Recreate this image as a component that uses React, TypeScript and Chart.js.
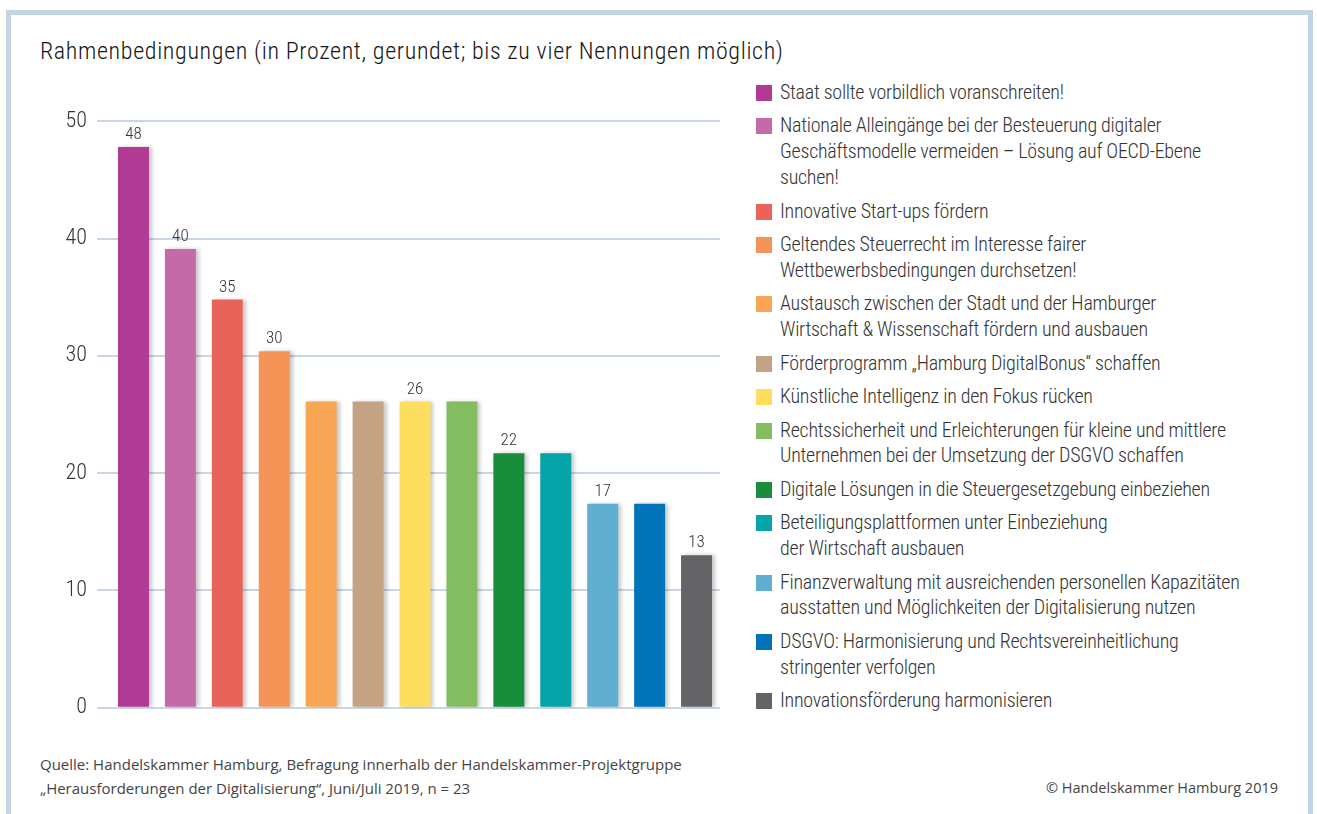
import React, { useEffect, useRef } from "react";
import { Chart, registerables } from "chart.js";

Chart.register(...registerables);

const TITLE = "Rahmenbedingungen (in Prozent, gerundet; bis zu vier Nennungen möglich)";
const SOURCE_LINES = [
  "Quelle: Handelskammer Hamburg, Befragung innerhalb der Handelskammer-Projektgruppe",
  "„Herausforderungen der Digitalisierung“, Juni/Juli 2019, n = 23",
];
const COPYRIGHT = "© Handelskammer Hamburg 2019";

const categories = [
  "Staat sollte vorbildlich voranschreiten!",
  "Nationale Alleingänge bei der Besteuerung digitaler\nGeschäftsmodelle vermeiden – Lösung auf OECD-Ebene\nsuchen!",
  "Innovative Start-ups fördern",
  "Geltendes Steuerrecht im Interesse fairer\nWettbewerbsbedingungen durchsetzen!",
  "Austausch zwischen der Stadt und der Hamburger\nWirtschaft & Wissenschaft fördern und ausbauen",
  "Förderprogramm „Hamburg DigitalBonus“ schaffen",
  "Künstliche Intelligenz in den Fokus rücken",
  "Rechtssicherheit und Erleichterungen für kleine und mittlere\nUnternehmen bei der Umsetzung der DSGVO schaffen",
  "Digitale Lösungen in die Steuergesetzgebung einbeziehen",
  "Beteiligungsplattformen unter Einbeziehung\nder Wirtschaft ausbauen",
  "Finanzverwaltung mit ausreichenden personellen Kapazitäten\nausstatten und Möglichkeiten der Digitalisierung nutzen",
  "DSGVO: Harmonisierung und Rechtsvereinheitlichung\nstringenter verfolgen",
  "Innovationsförderung harmonisieren",
];

const values = [47.8, 39.1, 34.8, 30.4, 26.1, 26.1, 26.1, 26.1, 21.7, 21.7, 17.4, 17.4, 13.0];

const valueLabels = ["48", "40", "35", "30", "", "", "26", "", "22", "", "17", "", "13"];

const colors = [
  "#b13a94",
  "#c56aa8",
  "#e8635a",
  "#f69457",
  "#f7a655",
  "#c4a385",
  "#fede5e",
  "#84bc62",
  "#188d3c",
  "#04a4a8",
  "#60aed0",
  "#0073b9",
  "#646466",
];

const yTicks = [0, 10, 20, 30, 40, 50];

const FONT = "'Roboto Condensed', 'Roboto', sans-serif";
const GRID = "#c8d6e6";

const barPlugin = {
  id: "barExtras",
  beforeDatasetsDraw(chart: any) {
    const ctx = chart.ctx;
    ctx.save();
    ctx.shadowColor = "rgba(0,0,0,0.22)";
    ctx.shadowOffsetX = 3;
    ctx.shadowOffsetY = 0;
    ctx.shadowBlur = 4;
  },
  afterDatasetsDraw(chart: any) {
    const ctx = chart.ctx;
    ctx.restore();
    const meta = chart.getDatasetMeta(0);
    ctx.save();
    ctx.font = `300 17px ${FONT}`;
    ctx.fillStyle = "#333333";
    ctx.textAlign = "center";
    ctx.textBaseline = "alphabetic";
    meta.data.forEach((bar: any, i: number) => {
      const t = valueLabels[i];
      if (!t) return;
      ctx.fillText(t, bar.x, bar.y - 8);
    });
    ctx.restore();
  },
};

export default function App() {
  const ref = useRef<HTMLCanvasElement>(null);
  useEffect(() => {
    if (!ref.current) return;
    const chart = new Chart(ref.current, {
      type: "bar",
      data: {
        labels: categories,
        datasets: [
          {
            data: values,
            backgroundColor: colors,
            borderWidth: 0,
            barPercentage: 0.66,
            categoryPercentage: 1,
          },
        ],
      },
      options: {
        animation: false,
        responsive: false,
        maintainAspectRatio: false,
        layout: { padding: { left: 0, right: 12, top: 21, bottom: 20 } },
        plugins: { legend: { display: false }, tooltip: { enabled: false } },
        scales: {
          x: { display: false },
          y: {
            min: 0,
            max: 50,
            afterFit(scale: any) {
              scale.width = 110;
            },
            afterBuildTicks(scale: any) {
              scale.ticks = yTicks.map((v) => ({ value: v }));
            },
            border: { display: false },
            grid: { color: GRID, lineWidth: 2, tickLength: 13, drawTicks: true, tickColor: GRID },
            ticks: {
              padding: 10,
              color: "#333333",
              font: { family: FONT, size: 22, weight: "300" as any },
            },
          },
        },
      },
      plugins: [barPlugin],
    });
    return () => chart.destroy();
  }, []);

  return (
    <div style={{ position: "fixed", left: 0, top: 0, width: 1317, height: 814, background: "#fff", overflow: "hidden" }}>
      <div
        style={{
          position: "absolute",
          left: 6,
          top: 10,
          width: 1297,
          height: 900,
          border: "5px solid #c4d4e7",
        }}
      />
      <div
        style={{
          position: "absolute",
          left: 40,
          top: 39,
          fontFamily: FONT,
          fontWeight: 300,
          fontSize: 24,
          lineHeight: "24px",
          color: "#151515",
          whiteSpace: "nowrap",
          letterSpacing: "0.65px",
        }}
      >
        {TITLE}
      </div>
      <canvas ref={ref} width={732} height={633} style={{ position: "absolute", left: 0, top: 98, width: 732, height: 633 }} />
      <div style={{ position: "absolute", left: 756, top: 80, width: 540 }}>
        {categories.map((c, i) => (
          <div key={i} style={{ position: "relative", marginBottom: 7.7 }}>
            <div
              style={{
                position: "absolute",
                left: 0,
                top: 5,
                width: 16,
                height: 16,
                background: colors[i],
              }}
            />
            <div
              style={{
                marginLeft: 24,
                fontFamily: FONT,
                fontWeight: 300,
                fontSize: 20,
                lineHeight: "25.8px",
                letterSpacing: "-0.27px",
                color: "#333",
                whiteSpace: "pre",
              }}
            >
              {c}
            </div>
          </div>
        ))}
      </div>
      <div
        style={{
          position: "absolute",
          left: 40,
          top: 752,
          fontFamily: "'Open Sans', sans-serif",
          fontSize: 15,
          lineHeight: "24px",
          color: "#444",
          whiteSpace: "nowrap",
        }}
      >
        {SOURCE_LINES.map((l, i) => (
          <div key={i}>{l}</div>
        ))}
      </div>
      <div
        style={{
          position: "absolute",
          right: 1317 - 1278,
          top: 776,
          fontFamily: "'Open Sans', sans-serif",
          fontSize: 14.5,
          lineHeight: "24px",
          color: "#444",
          whiteSpace: "nowrap",
        }}
      >
        {COPYRIGHT}
      </div>
    </div>
  );
}
